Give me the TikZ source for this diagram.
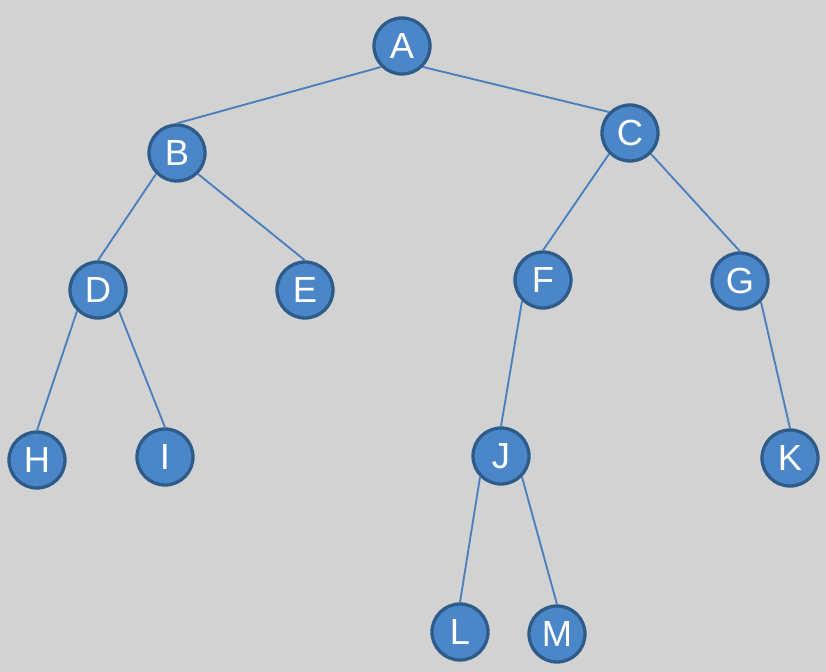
\documentclass[tikz,border=0pt]{standalone}
\usepackage{fontspec}
\setmainfont{Liberation Sans}
\usepackage{tikz}
\definecolor{BgGray}{HTML}{D2D2D2}
\definecolor{NodeBlue}{HTML}{4A86C8}
\definecolor{RimBlue}{HTML}{2E5C8A}
\definecolor{EdgeBlue}{HTML}{4A80C0}
\begin{document}
\begin{tikzpicture}[
        x=0.03cm, y=-0.03cm,
        v/.style={circle, draw=RimBlue, fill=NodeBlue, line width=2.8pt,
                  minimum size=1.68cm, inner sep=0pt, text=white,
                  font=\fontsize{31}{31}\selectfont},
        e/.style={draw=EdgeBlue, line width=1.6pt},
      ]
        \fill[BgGray] (0,0) rectangle (826,672);
        \useasboundingbox (0,0) rectangle (826,672);
        % vertices
        \node[v] (a) at (402,46)  {A};
        \node[v] (b) at (177,153) {B};
        \node[v] (c) at (630,133) {C};
        \node[v] (d) at (98,290)  {D};
        \node[v] (e) at (305,290) {E};
        \node[v] (f) at (543,280) {F};
        \node[v] (g) at (740,281) {G};
        \node[v] (h) at (37,460)  {H};
        \node[v] (i) at (165,457) {I};
        \node[v] (j) at (501,456) {J};
        \node[v] (k) at (790,458) {K};
        \node[v] (l) at (460,632) {L};
        \node[v] (m) at (557,634) {M};
        % edges (lower corner of parent to top of child)
        \draw[e] (a.south west) -- (b.north);
        \draw[e] (a.south east) -- (c.north west);
        \draw[e] (b.south west) -- (d.north);
        \draw[e] (b.south east) -- (e.north);
        \draw[e] (c.south west) -- (f.north);
        \draw[e] (c.south east) -- (g.north);
        \draw[e] (d.south west) -- (h.north);
        \draw[e] (d.south east) -- (i.north);
        \draw[e] (f.south west) -- (j.north);
        \draw[e] (g.south east) -- (k.north);
        \draw[e] (j.south west) -- (l.north);
        \draw[e] (j.south east) -- (m.north);
      \end{tikzpicture}
\end{document}
